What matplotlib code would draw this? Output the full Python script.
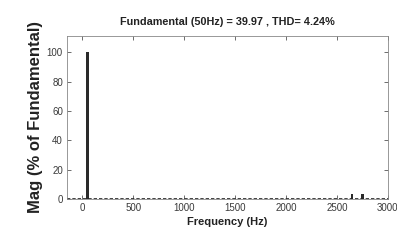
import matplotlib
matplotlib.use("Agg")
from matplotlib import pyplot as plt

# harmonic spectrum (Hz, % of fundamental)
freqs = [50, 2650, 2750]
mags = [100, 3.5, 3.3]
bar_widths = [32, 22, 22]

fund_hz = 50
fund_mag = 39.97
thd = 4.24

FONT = ['Liberation Sans', 'DejaVu Sans']

fig = plt.figure(figsize=(3.97, 2.40), dpi=100)
ax = fig.add_axes([0.169, 0.171, 0.808, 0.679])

ax.bar(freqs, mags, width=bar_widths, color='#2a2a2a', linewidth=0)
# zero-height harmonics show up as a broken line along the base
ax.axhline(0, color='#222222', lw=1.2, ls=(0, (2, 1.2)))

ax.set_xlim(-150, 3000)
ax.set_ylim(0, 111)
ax.set_xticks([0, 500, 1000, 1500, 2000, 2500, 3000])
ax.set_yticks([0, 20, 40, 60, 80, 100])
ax.tick_params(direction='in', top=True, right=True, length=3, width=0.6,
               colors='#555555', labelcolor='#3a3a3a', pad=3)
for lab in ax.get_xticklabels() + ax.get_yticklabels():
    lab.set_family(FONT)
    lab.set_fontsize(7)
for s in ax.spines.values():
    s.set_color('#888888')
    s.set_linewidth(0.6)

ax.set_title('Fundamental (%dHz) = %.2f , THD= %.2f%%' % (fund_hz, fund_mag, thd),
             family=FONT, fontsize=7.8, fontweight='bold', color='#222222', pad=8)
ax.set_xlabel('Frequency (Hz)', family=FONT, fontsize=8, fontweight='bold',
              color='#222222', labelpad=3)
ax.set_ylabel('Mag (% of Fundamental)', family=FONT, fontsize=12, fontweight='bold',
              color='#222222', labelpad=3)

fig.savefig('out.png', dpi=100, facecolor='white')
